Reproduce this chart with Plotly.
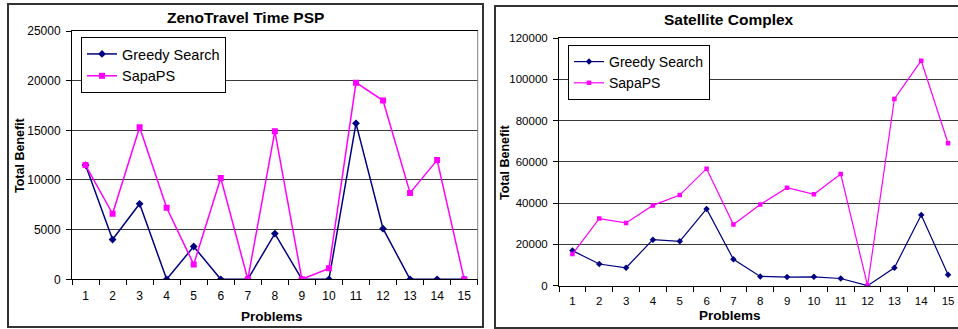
import plotly.graph_objects as go

W, H = 958, 329

problems = [str(i) for i in range(1, 16)]

zeno_greedy = [11500, 4000, 7600, 0, 3300, 0, 0, 4600, 0, 0, 15700, 5100, 0, 0, 0]
zeno_sapaps = [11500, 6600, 15300, 7200, 1500, 10200, 0, 14900, 0, 1100, 19800, 18000, 8700, 12000, 0]

sat_greedy = [17000, 10500, 8700, 22300, 21500, 37200, 12800, 4500, 4200, 4300, 3500, 0, 8700, 34300, 5300]
sat_sapaps = [15300, 32500, 30400, 38900, 43900, 56700, 29600, 39300, 47500, 44300, 54100, 0, 90500, 109000, 69000]

left_title = "ZenoTravel Time PSP"
right_title = "Satellite Complex"
series_names = ["Greedy Search", "SapaPS"]
y_title = "Total Benefit"
x_title = "Problems"

NAVY = "#000080"
MAG = "#FF00FF"
FONT = "Liberation Sans, Arial, sans-serif"


def px(x):
    return x / W


def py(y):
    return 1 - y / H


fig = go.Figure()

fig.add_trace(go.Scatter(x=problems, y=zeno_greedy, name=series_names[0], mode="lines+markers",
                         line=dict(color=NAVY, width=1.5), marker=dict(symbol="diamond", size=6, color=NAVY),
                         xaxis="x", yaxis="y", legend="legend"))
fig.add_trace(go.Scatter(x=problems, y=zeno_sapaps, name=series_names[1], mode="lines+markers",
                         line=dict(color=MAG, width=1.5), marker=dict(symbol="square", size=6, color=MAG),
                         xaxis="x", yaxis="y", legend="legend"))
fig.add_trace(go.Scatter(x=problems, y=sat_greedy, name=series_names[0], mode="lines+markers",
                         line=dict(color=NAVY, width=1.2), marker=dict(symbol="diamond", size=5, color=NAVY),
                         xaxis="x2", yaxis="y2", legend="legend2"))
fig.add_trace(go.Scatter(x=problems, y=sat_sapaps, name=series_names[1], mode="lines+markers",
                         line=dict(color=MAG, width=1.2), marker=dict(symbol="square", size=4.5, color=MAG),
                         xaxis="x2", yaxis="y2", legend="legend2"))

xcommon = dict(type="category", tickson="boundaries", ticks="outside", ticklen=5, tickcolor="black",
               showline=True, linecolor="black", linewidth=1, showgrid=False, zeroline=False,
               fixedrange=True, automargin=False)
ycommon = dict(ticks="outside", ticklen=5, tickcolor="black", showline=True, linecolor="black",
               linewidth=1, showgrid=True, gridcolor="#3a3a3a", gridwidth=1, zeroline=False,
               fixedrange=True, tickformat="d", automargin=False)

fig.update_layout(
    width=W, height=H,
    margin=dict(l=0, r=0, t=0, b=0, autoexpand=False),
    paper_bgcolor="white", plot_bgcolor="white",
    font=dict(family=FONT, color="black"),
    xaxis=dict(xcommon, domain=[px(72), px(477.7)], range=[-0.5, 14.5], anchor="y",
               tickfont=dict(family=FONT, size=12, color="black"), mirror=True, ticklabelstandoff=5),
    yaxis=dict(ycommon, domain=[py(279.3), py(31)], range=[0, 25000], dtick=5000, anchor="x",
               tickfont=dict(family=FONT, size=12, color="black"), ticklabelstandoff=3),
    xaxis2=dict(xcommon, domain=[px(559), 1], range=[-0.5, 14.37], anchor="y2",
                tickfont=dict(family=FONT, size=11.5, color="black"), mirror=True, ticklabelstandoff=4),
    yaxis2=dict(ycommon, domain=[py(285.7), py(38)], range=[0, 120000], dtick=20000, anchor="x2",
                tickfont=dict(family=FONT, size=11.5, color="black"), ticklabelstandoff=3),
    legend=dict(x=px(81), y=py(37), xanchor="left", yanchor="top", bgcolor="white",
                bordercolor="black", borderwidth=1, font=dict(family=FONT, size=14.5, color="black"),
                itemwidth=30, tracegroupgap=0),
    legend2=dict(x=px(568), y=py(45), xanchor="left", yanchor="top", bgcolor="white",
                 bordercolor="black", borderwidth=1, font=dict(family=FONT, size=14, color="black"),
                 itemwidth=30, tracegroupgap=0),
    showlegend=True,
)

shapes = [
    dict(type="rect", xref="paper", yref="paper", x0=px(8), x1=px(483), y0=py(327), y1=py(4),
         line=dict(color="#333333", width=2), layer="below"),
    dict(type="rect", xref="paper", yref="paper", x0=px(495), x1=px(975), y0=py(328), y1=py(6),
         line=dict(color="#333333", width=2), layer="below"),
    dict(type="line", xref="paper", yref="paper", x0=px(477.7), x1=px(477.7), y0=py(279.3), y1=py(31),
         line=dict(color="#808080", width=1)),
]
fig.update_layout(shapes=shapes)

ann = [
    dict(text="<b>%s</b>" % left_title, x=px(245.5), y=py(18), font=dict(size=15.5)),
    dict(text="<b>%s</b>" % right_title, x=px(728.5), y=py(19), font=dict(size=15.5)),
    dict(text="<b>%s</b>" % y_title, x=px(20), y=py(155), textangle=-90, font=dict(size=12.5)),
    dict(text="<b>%s</b>" % y_title, x=px(505), y=py(162), textangle=-90, font=dict(size=12.5)),
    dict(text="<b>%s</b>" % x_title, x=px(272), y=py(316.5), font=dict(size=13.5)),
    dict(text="<b>%s</b>" % x_title, x=px(730), y=py(315), font=dict(size=13.5)),
]
for a in ann:
    a.update(xref="paper", yref="paper", showarrow=False, xanchor="center", yanchor="middle")
    a["font"].update(family=FONT, color="black")
fig.update_layout(annotations=ann)

fig.write_html("out.html", config={"displayModeBar": False},
               post_script="document.body.style.margin='0';document.body.style.overflow='hidden';")
